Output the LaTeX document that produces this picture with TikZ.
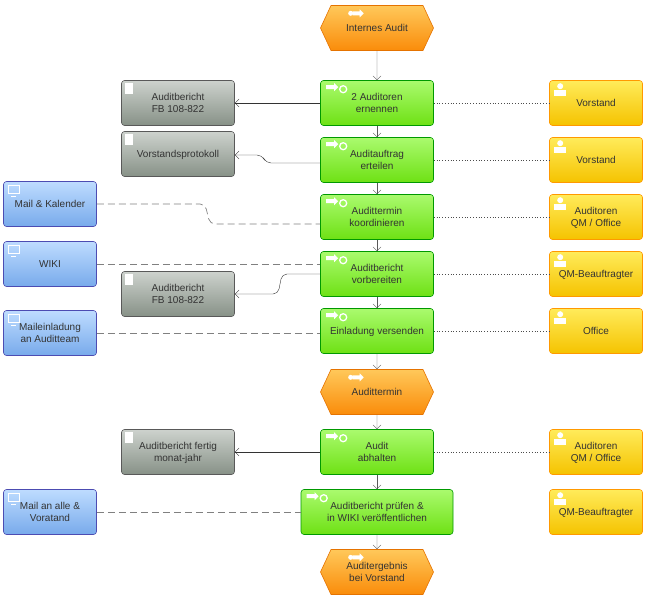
\documentclass[tikz,border=0pt]{standalone}
\usepackage{fontspec}
\setmainfont{Liberation Sans}
\usetikzlibrary{shapes.geometric,shapes.symbols,arrows.meta}
\definecolor{evtop}{RGB}{255,200,90}
\definecolor{evbot}{RGB}{250,140,10}
\definecolor{fntop}{RGB}{170,250,110}
\definecolor{fnbot}{RGB}{110,225,20}
\definecolor{dctop}{RGB}{205,210,205}
\definecolor{dcbot}{RGB}{135,145,135}
\definecolor{sytop}{RGB}{190,220,255}
\definecolor{sybot}{RGB}{120,170,235}
\definecolor{ortop}{RGB}{255,235,90}
\definecolor{orbot}{RGB}{245,195,0}
\tikzset{
  base/.style={minimum height=45pt,align=center,font=\fontsize{10}{12}\selectfont,text=black!80,inner sep=1pt,text depth=-4pt},
  event/.style={base,shape=signal,signal to=east and west,signal pointer angle=130,minimum width=113pt,inner xsep=0pt,
    top color=evtop,bottom color=evbot,draw=orange!90!black,line width=0.6pt},
  func/.style={base,rounded corners=3pt,minimum width=113pt,top color=fntop,bottom color=fnbot,draw=green!60!black,line width=0.6pt},
  docu/.style={base,rounded corners=3pt,minimum width=113pt,top color=dctop,bottom color=dcbot,draw=gray!70!black,line width=0.6pt},
  syst/.style={base,rounded corners=3pt,minimum width=93pt,top color=sytop,bottom color=sybot,draw=blue!40!gray,line width=0.6pt},
  unit/.style={base,rounded corners=3pt,minimum width=93pt,top color=ortop,bottom color=orbot,draw=orange!80!yellow,line width=0.6pt},
  flow/.style={draw=gray!70!black,-{Straight Barb[length=4pt]}},
  output/.style={draw=black!80,-{Straight Barb[length=4pt]}},
  sys/.style={draw=gray,dash pattern=on 7pt off 4pt,line width=0.7pt},
  org/.style={draw=black!70,dotted,line width=0.8pt},
}
\newcommand\fnicon[1]{\fill[white] ([shift={(6pt,-5pt)}]#1.north west) -- ++(8pt,0) -- ++(0,2pt) -- ++(4pt,-4pt) -- ++(-4pt,-4pt) -- ++(0,2pt) -- ++(-8pt,0) -- cycle;
  \draw[white,line width=1.3pt] ([shift={(23pt,-9pt)}]#1.north west) circle[radius=3.5pt];}
\newcommand\evicon[1]{\fill[white] ([shift={(20pt,-8pt)}]#1.north west) circle[radius=2.5pt];
  \fill[white] ([shift={(22pt,-6pt)}]#1.north west) -- ++(7pt,0) -- ++(0,2pt) -- ++(4pt,-4pt) -- ++(-4pt,-4pt) -- ++(0,2pt) -- ++(-7pt,0) -- cycle;}
\newcommand\dcicon[1]{\fill[white] ([shift={(4pt,-3pt)}]#1.north west) rectangle ++(8pt,-11pt);}
\newcommand\syicon[1]{\draw[white,line width=1.2pt] ([shift={(5pt,-4pt)}]#1.north west) rectangle ++(11pt,-8pt);
  \draw[white,line width=1.2pt] ([shift={(8pt,-15pt)}]#1.north west) -- ++(5pt,0);}
\newcommand\oricon[1]{\fill[white] ([shift={(11pt,-6pt)}]#1.north west) circle[radius=3pt];
  \fill[white] ([shift={(5pt,-16pt)}]#1.north west) rectangle ++(12pt,6pt);}
\begin{document}
\begin{tikzpicture}[x=1pt,y=-1pt]
\useasboundingbox (0,0) rectangle (648,600);
% Ereignisse
\node[event] (ev1) at (377,28) {Internes Audit};
\node[event] (ev2) at (377,392) {Audittermin};
\node[event] (ev3) at (377,572) {Auditergebnis\\bei Vorstand};
% Funktionen
\node[func] (f1) at (377,103) {2 Auditoren\\ernennen};
\node[func] (f2) at (377,160) {Auditauftrag\\erteilen};
\node[func] (f3) at (377,217) {Audittermin\\koordinieren};
\node[func] (f4) at (377,274) {Auditbericht\\vorbereiten};
\node[func] (f5) at (377,331) {Einladung versenden};
\node[func] (f6) at (377,452) {Audit\\abhalten};
\node[func,minimum width=152pt] (f7) at (377,512) {Auditbericht prüfen \&\\in WIKI veröffentlichen};
% Dokumente
\node[docu] (d1) at (178,103) {Auditbericht\\FB 108-822};
\node[docu] (d2) at (178,154) {Vorstandsprotokoll};
\node[docu] (d3) at (178,294) {Auditbericht\\FB 108-822};
\node[docu] (d4) at (178,452) {Auditbericht fertig\\monat-jahr};
% Systeme
\node[syst] (s1) at (50,204) {Mail \& Kalender};
\node[syst] (s2) at (50,264) {WIKI};
\node[syst] (s3) at (50,333) {Maileinladung\\an Auditteam};
\node[syst] (s4) at (50,512) {Mail an alle \&\\Voratand};
% Organisation
\node[unit] (o1) at (596,103) {Vorstand};
\node[unit] (o2) at (596,160) {Vorstand};
\node[unit] (o3) at (596,217) {Auditoren\\QM / Office};
\node[unit] (o4) at (596,274) {QM-Beauftragter};
\node[unit] (o5) at (596,331) {Office};
\node[unit] (o6) at (596,452) {Auditoren\\QM / Office};
\node[unit] (o7) at (596,512) {QM-Beauftragter};
% Symbole
\foreach \n in {ev1,ev2,ev3} {\evicon{\n}}
\foreach \n in {f1,f2,f3,f4,f5,f6,f7} {\fnicon{\n}}
\foreach \n in {d1,d2,d3,d4} {\dcicon{\n}}
\foreach \n in {s1,s2,s3,s4} {\syicon{\n}}
\foreach \n in {o1,o2,o3,o4,o5,o6,o7} {\oricon{\n}}
% Ablauf
\draw[flow] (ev1) -- (f1);
\draw[flow] (f1) -- (f2);
\draw[flow] (f2) -- (f3);
\draw[flow] (f3) -- (f4);
\draw[flow] (f4) -- (f5);
\draw[flow] (f5) -- (ev2);
\draw[flow] (ev2) -- (f6);
\draw[flow] (f6) -- (f7);
\draw[flow] (f7) -- (ev3);
% Output
\draw[output] (f1.west) -- (d1.east);
\draw[output,rounded corners=5pt] (f2.west |- 0,163) -- (266,163) -- (262,155) -- (d2.east |- 0,155);
\draw[output,rounded corners=5pt] (f4.west) -- (282,274) -- (278,294) -- (d3.east);
\draw[output] (f6.west) -- (d4.east);
% Systeme
\draw[sys,rounded corners=5pt] (s1.east) -- (205,204) -- (210,224) -- (f3.west |- 0,224);
\draw[sys] (s2.east) -- (f4.west |- s2.east);
\draw[sys] (s3.east) -- (f5.west |- s3.east);
\draw[sys] (s4.east) -- (f7.west);
% Organisation
\foreach \i in {1,...,6} {\draw[org] (f\i.east) -- (o\i.west);}
\end{tikzpicture}
\end{document}
